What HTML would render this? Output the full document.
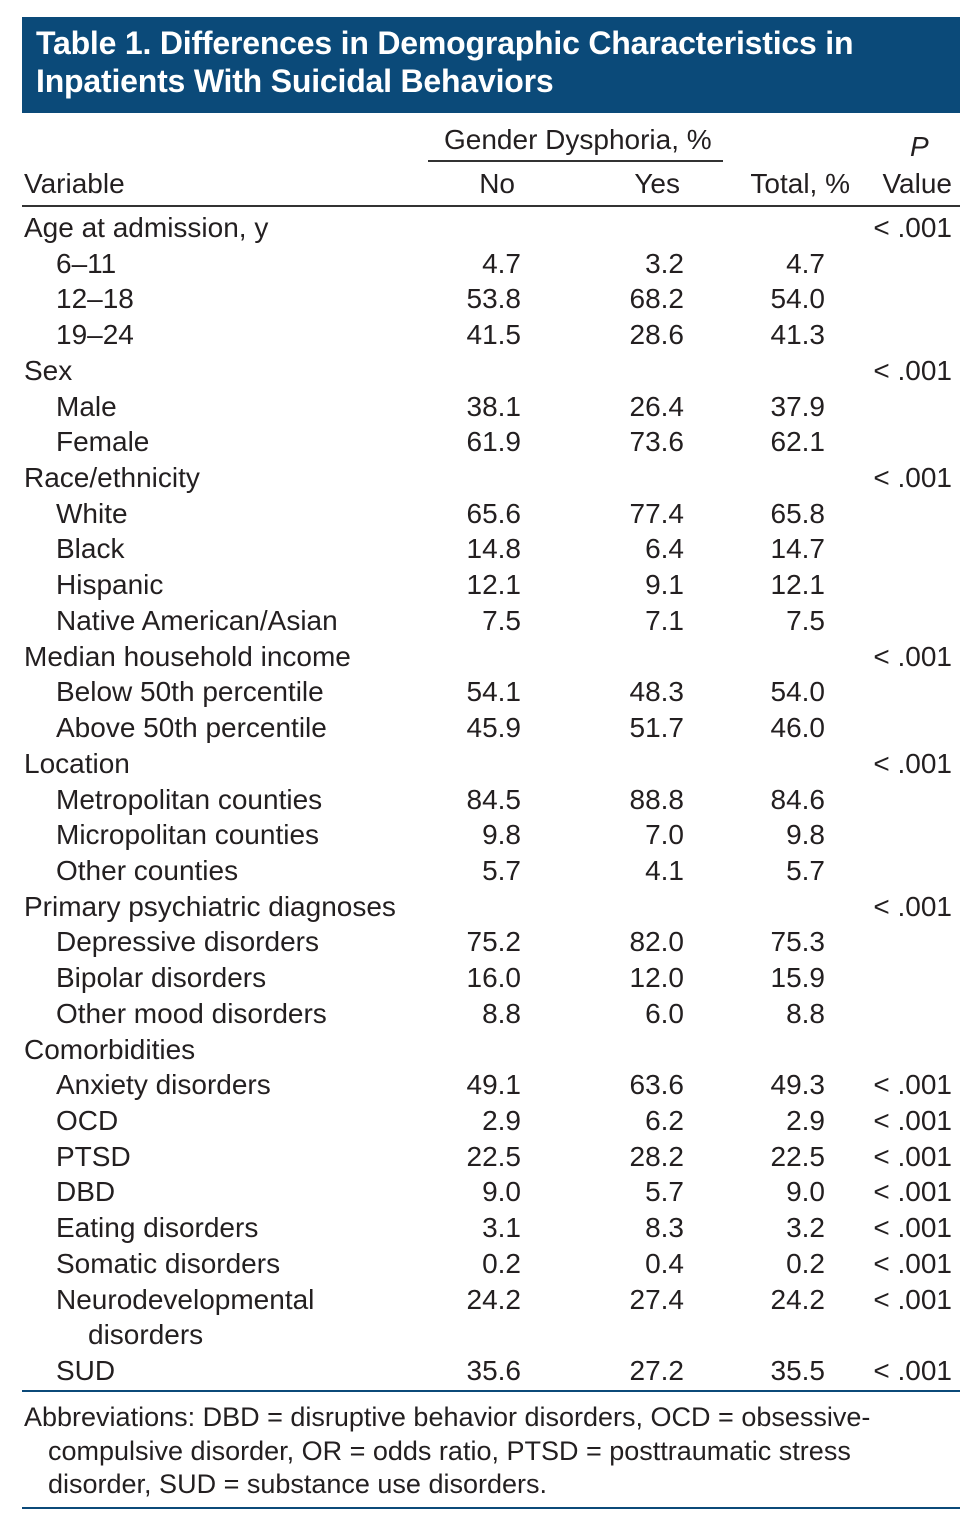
<!DOCTYPE html>
<html><head><meta charset="utf-8"><style>
body{margin:0;width:975px;height:1536px;background:#fff;position:relative;font-family:"Liberation Sans",sans-serif;color:#231f20;overflow:hidden}
.t{position:absolute;font-size:28px;line-height:34px;white-space:nowrap}
.r{text-align:right}
.hd{position:absolute;left:22px;top:17px;width:938px;height:96px;background:#0b4a79}
.ht{position:absolute;left:36px;color:#fff;font-weight:bold;font-size:32px;line-height:38px;white-space:nowrap;letter-spacing:-0.2px}
.ln{position:absolute;height:2px}
</style></head><body>
<div class="hd"></div>
<div class="ht" style="top:24px">Table 1. Differences in Demographic Characteristics in</div>
<div class="ht" style="top:62px">Inpatients With Suicidal Behaviors</div>
<div class="t" style="left:444px;top:123px">Gender Dysphoria, %</div>
<div class="ln" style="left:428px;top:160px;width:295px;background:#333"></div>
<div class="t" style="left:910px;top:130px;font-style:italic">P</div>
<div class="t" style="left:24px;top:167px">Variable</div>
<div class="t r" style="left:415px;top:167px;width:100px">No</div>
<div class="t r" style="left:580px;top:167px;width:100px">Yes</div>
<div class="t r" style="left:700px;top:167px;width:150px">Total, %</div>
<div class="t r" style="left:852px;top:167px;width:100px">Value</div>
<div class="ln" style="left:22px;top:205px;width:938px;background:#333"></div>
<div id="rows"></div>
<div class="ln" style="left:22px;top:1390px;width:938px;background:#0b4a79"></div>
<div class="t" style="left:24px;top:1400px;font-size:27px">Abbreviations: DBD = disruptive behavior disorders, OCD = obsessive-</div>
<div class="t" style="left:48px;top:1434px;font-size:27px">compulsive disorder, OR = odds ratio, PTSD = posttraumatic stress</div>
<div class="t" style="left:48px;top:1467px;font-size:27px">disorder, SUD = substance use disorders.</div>
<div class="ln" style="left:22px;top:1507px;width:938px;background:#0b4a79"></div>
<script>
var R=[["Age at admission, y",0,"","","","<.001"],["6–11",1,"4.7","3.2","4.7",""],["12–18",1,"53.8","68.2","54.0",""],["19–24",1,"41.5","28.6","41.3",""],
["Sex",0,"","","","<.001"],["Male",1,"38.1","26.4","37.9",""],["Female",1,"61.9","73.6","62.1",""],
["Race/ethnicity",0,"","","","<.001"],["White",1,"65.6","77.4","65.8",""],["Black",1,"14.8","6.4","14.7",""],["Hispanic",1,"12.1","9.1","12.1",""],["Native American/Asian",1,"7.5","7.1","7.5",""],
["Median household income",0,"","","","<.001"],["Below 50th percentile",1,"54.1","48.3","54.0",""],["Above 50th percentile",1,"45.9","51.7","46.0",""],
["Location",0,"","","","<.001"],["Metropolitan counties",1,"84.5","88.8","84.6",""],["Micropolitan counties",1,"9.8","7.0","9.8",""],["Other counties",1,"5.7","4.1","5.7",""],
["Primary psychiatric diagnoses",0,"","","","<.001"],["Depressive disorders",1,"75.2","82.0","75.3",""],["Bipolar disorders",1,"16.0","12.0","15.9",""],["Other mood disorders",1,"8.8","6.0","8.8",""],
["Comorbidities",0,"","","",""],["Anxiety disorders",1,"49.1","63.6","49.3","<.001"],["OCD",1,"2.9","6.2","2.9","<.001"],["PTSD",1,"22.5","28.2","22.5","<.001"],["DBD",1,"9.0","5.7","9.0","<.001"],["Eating disorders",1,"3.1","8.3","3.2","<.001"],["Somatic disorders",1,"0.2","0.4","0.2","<.001"],["Neurodevelopmental",1,"24.2","27.4","24.2","<.001"],["disorders",2,"","","",""],["SUD",1,"35.6","27.2","35.5","<.001"]];
var h="";R.forEach(function(r,i){var y=228+i*35.72-17;
h+='<div class="t" style="left:'+(24+r[1]*32)+'px;top:'+y+'px">'+r[0]+'</div>';
if(r[2])h+='<div class="t r" style="left:421px;top:'+y+'px;width:100px">'+r[2]+'</div><div class="t r" style="left:584px;top:'+y+'px;width:100px">'+r[3]+'</div><div class="t r" style="left:725px;top:'+y+'px;width:100px">'+r[4]+'</div>';
if(r[5])h+='<div class="t r" style="left:852px;top:'+y+'px;width:100px">&lt; .001</div>';});
document.getElementById("rows").outerHTML=h;
</script>
</body></html>
